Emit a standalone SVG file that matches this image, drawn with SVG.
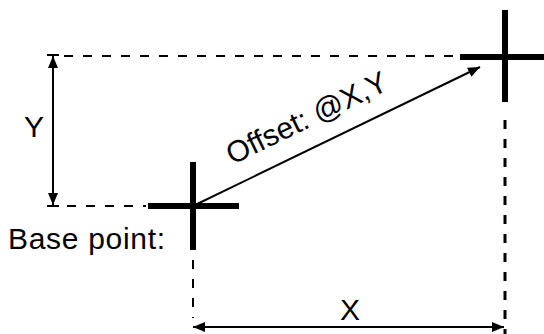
<svg xmlns="http://www.w3.org/2000/svg" width="544" height="334" viewBox="0 0 544 334">
<style>
.t{font-family:"Liberation Sans",Arial,sans-serif;font-size:30px;fill:#000}
.d{stroke:#000;stroke-width:2;stroke-dasharray:9 10;fill:none}
.cr{stroke:#000;stroke-width:6;fill:none}
.ln{stroke:#000;stroke-width:2;fill:none}
</style>
<defs>
<marker id="ah" viewBox="0 0 12 10" refX="12" refY="5" markerWidth="12" markerHeight="10" markerUnits="userSpaceOnUse" orient="auto-start-reverse">
<path d="M0,0 L12,5 L0,10 Z" fill="#000"/>
</marker>
</defs>
<rect width="544" height="334" fill="#fff"/>
<g id="guides">
<line class="d" x1="64" y1="56" x2="459" y2="56"/>
<line class="d" x1="67" y1="206" x2="146" y2="206"/>
<line class="d" x1="193" y1="260" x2="193" y2="318"/>
<line class="d" x1="505" y1="120" x2="505" y2="334" style="stroke-width:3"/>
</g>
<g id="base-point">
<line class="cr" x1="148" y1="206" x2="239" y2="206"/>
<line class="cr" x1="193" y1="162" x2="193" y2="250"/>
<text class="t" x="8" y="249" textLength="157">Base point:</text>
</g>
<g id="target-point">
<line class="cr" x1="460" y1="57" x2="544" y2="57"/>
<line class="cr" x1="505" y1="10" x2="505" y2="102"/>
</g>
<g id="connectors">
<line class="ln" x1="53" y1="56" x2="53" y2="205" marker-start="url(#ah)" marker-end="url(#ah)"/>
<line x1="47" y1="55" x2="59" y2="55" stroke="#000" stroke-width="2"/>
<line x1="47" y1="206" x2="59" y2="206" stroke="#000" stroke-width="2"/>
<line class="ln" x1="193" y1="327" x2="504" y2="327" marker-start="url(#ah)" marker-end="url(#ah)"/>
<line class="ln" x1="193" y1="206" x2="480" y2="67" marker-end="url(#ah)"/>
</g>
<g id="labels">
<text class="t" x="24" y="137">Y</text>
<text class="t" x="350" y="320" text-anchor="middle">X</text>
<text class="t" x="311" y="127" text-anchor="middle" transform="rotate(-25.7 311 127)">Offset: @X,Y</text>
</g>
</svg>
